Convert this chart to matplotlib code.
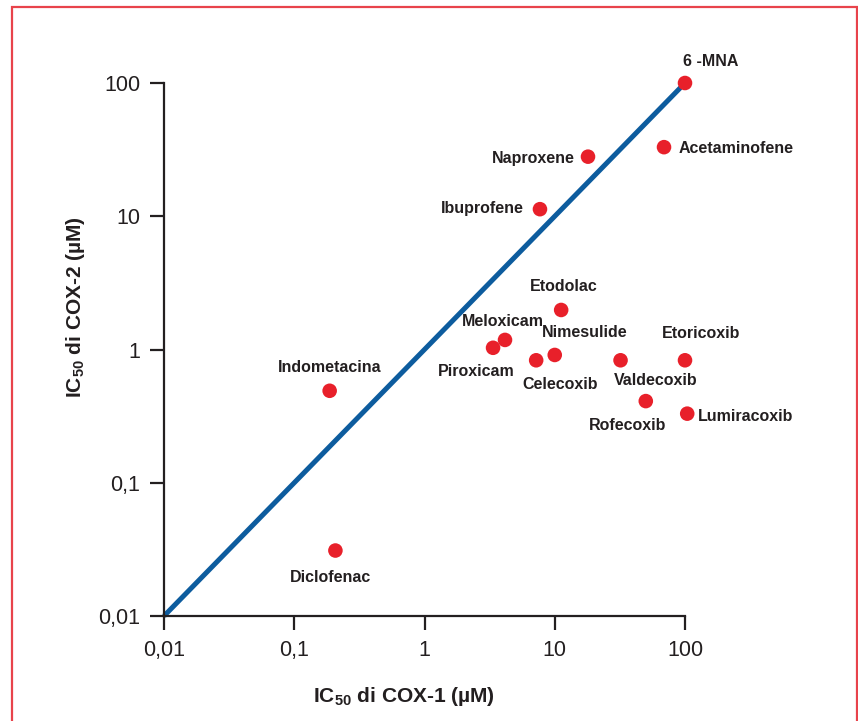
import matplotlib.pyplot as plt
from matplotlib.patches import Rectangle
from matplotlib.ticker import FixedLocator, NullLocator

plt.rcParams['font.family'] = ['Liberation Sans', 'DejaVu Sans']
plt.rcParams['mathtext.fontset'] = 'custom'
plt.rcParams['mathtext.rm'] = 'Liberation Sans:bold'
plt.rcParams['mathtext.default'] = 'rm'

# dati IC50 (µM)
farmaci = ["6 -MNA", "Acetaminofene", "Naproxene", "Ibuprofene", "Etodolac",
           "Meloxicam", "Nimesulide", "Etoricoxib", "Piroxicam", "Celecoxib",
           "Valdecoxib", "Rofecoxib", "Lumiracoxib", "Indometacina", "Diclofenac"]
cox1 = [100, 69, 18, 7.7, 11.2, 4.15, 10.0, 100, 3.36, 7.2, 32, 50, 104, 0.187, 0.207]
cox2 = [100, 33, 28, 11.3, 1.98, 1.18, 0.91, 0.83, 1.03, 0.83, 0.83, 0.41, 0.33, 0.49, 0.031]

tick_vals = [0.01, 0.1, 1, 10, 100]
tick_labels = ["0,01", "0,1", "1", "10", "100"]

# posizione etichette (offset in pixel, allineamento)
label_pos = {
    "6 -MNA": (-2, 21, "left"),
    "Acetaminofene": (15, -1, "left"),
    "Naproxene": (-13, -2, "right"),
    "Ibuprofene": (-16, 1, "right"),
    "Etodolac": (3, 23, "center"),
    "Meloxicam": (-2, 18, "center"),
    "Nimesulide": (30, 22, "center"),
    "Etoricoxib": (16, 27, "center"),
    "Piroxicam": (-17, -24, "center"),
    "Celecoxib": (24, -24, "center"),
    "Valdecoxib": (35, -20, "center"),
    "Rofecoxib": (-18, -24, "center"),
    "Lumiracoxib": (11, -3, "left"),
    "Indometacina": (0, 23, "center"),
    "Diclofenac": (-5, -27, "center"),
}

fig = plt.figure(figsize=(8.58, 7.21), dpi=100)
ax = fig.add_axes([164 / 858, 1 - 616 / 721, (685 - 164) / 858, (616 - 83) / 721])

fig.patches.append(Rectangle((11.5 / 858, -0.05), 845 / 858, 1.05 - 7.5 / 721,
                             transform=fig.transFigure, fill=False,
                             edgecolor="#e8434b", linewidth=1.6))

ax.set_xscale("log")
ax.set_yscale("log")
ax.set_xlim(0.01, 100)
ax.set_ylim(0.01, 100)

ax.plot([0.01, 100], [0.01, 100], color="#0d5c9e", linewidth=3.6,
        solid_capstyle="butt", clip_on=False, zorder=2)
ax.scatter(cox1, cox2, s=110, color="#e8202a", edgecolors="none",
           clip_on=False, zorder=3)

for nome, x, y in zip(farmaci, cox1, cox2):
    dx, dy, ha = label_pos[nome]
    ax.annotate(nome, (x, y), xytext=(dx, dy), textcoords="offset pixels",
                ha=ha, va="center", fontsize=11.5, fontweight="bold",
                color="#231f20", annotation_clip=False)

for s in ["top", "right"]:
    ax.spines[s].set_visible(False)
for s in ["left", "bottom"]:
    ax.spines[s].set_linewidth(1.6)
    ax.spines[s].set_color("#231f20")

for axis in (ax.xaxis, ax.yaxis):
    axis.set_major_locator(FixedLocator(tick_vals))
    axis.set_minor_locator(NullLocator())
ax.set_xticklabels(tick_labels)
ax.set_yticklabels(tick_labels)
ax.tick_params(length=10, width=1.6, color="#231f20", labelsize=15.5,
               labelcolor="#231f20", pad=7)

ax.set_xlabel(r"IC$_{50}$ di COX-1 (µM)", fontsize=15, fontweight="bold", color="#231f20")
ax.set_ylabel(r"IC$_{50}$ di COX-2 (µM)", fontsize=15, fontweight="bold", color="#231f20")
ax.xaxis.set_label_coords(0.46, -0.13)
ax.yaxis.set_label_coords(-0.148, 0.58)

fig.savefig("out.png", dpi=100)
